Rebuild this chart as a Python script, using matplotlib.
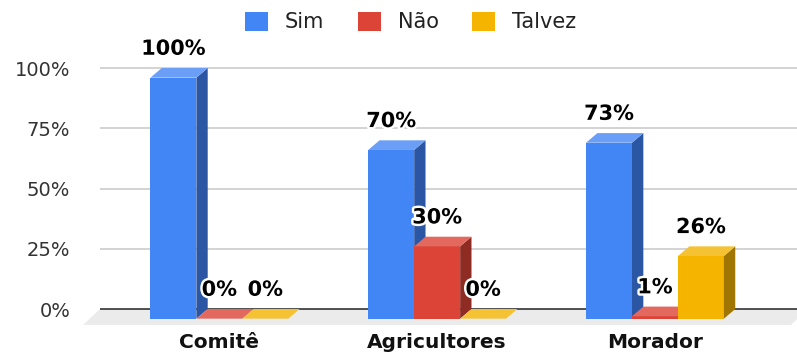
import matplotlib
matplotlib.use("Agg")
import matplotlib.pyplot as plt
import matplotlib.patheffects as pe
from matplotlib.patches import Polygon, Patch
import numpy as np

# Data
categories = ["Comitê", "Agricultores", "Morador"]
series_names = ["Sim", "Não", "Talvez"]
sim = [100, 70, 73]
nao = [0, 30, 1]
talvez = [0, 0, 26]
value_labels = [["100%", "70%", "73%"], ["0%", "30%", "1%"], ["0%", "0%", "26%"]]
y_ticks = [0, 25, 50, 75, 100]

series_values = [sim, nao, talvez]

# Face colours per series: front, side, top
front_colors = ["#4285F4", "#DB4437", "#F4B400"]
side_colors = ["#2B56A3", "#8E2B23", "#A07500"]
top_colors = ["#6B9EF6", "#E3685E", "#F5C234"]

fig = plt.figure(figsize=(7.97, 3.54), dpi=100)
ax = fig.add_axes([100 / 797, 28 / 354, 697 / 797, 284 / 354])
ax.set_xlim(-0.6, 2.6)
ax.set_ylim(-7.05, 110.8)

bar_w = 0.211     # width of each bar (data units)
depth_x = 0.052   # 3D depth offset, horizontal (data units)
depth_y = 4.0     # 3D depth offset, vertical (data units)

# Grid lines on the back plane
for t in y_ticks[1:]:
    ax.axhline(t, color="#CCCCCC", lw=1.2, zorder=0)

# Floor of the 3D box
x_left, x_right = ax.get_xlim()
floor_dx, floor_dy = 0.078, 6.6
floor = Polygon([(x_left, 0), (x_right + 0.05, 0),
                 (x_right + 0.05 - floor_dx, -floor_dy), (x_left - floor_dx, -floor_dy)],
                closed=True, facecolor="#EBEBEB", edgecolor="none", zorder=1, clip_on=False)
ax.add_patch(floor)
ax.axhline(0, color="#333333", lw=1.2, zorder=1.5)

groups = np.arange(len(categories))
offsets = [-bar_w, 0.0, bar_w]

label_fx = [pe.withStroke(linewidth=3.5, foreground="white")]

z = 2
for gi in groups:
    for si, vals in enumerate(series_values):
        v = vals[gi]
        xc_back = gi + offsets[si]
        x0b, x1b = xc_back - bar_w / 2, xc_back + bar_w / 2
        x0f, x1f = x0b - depth_x, x1b - depth_x
        yb_f, yt_f = -depth_y, v - depth_y
        yb_b, yt_b = 0.0, v
        # front face
        if v > 0:
            ax.bar(xc_back - depth_x, v, width=bar_w, bottom=-depth_y,
                   color=front_colors[si], edgecolor="none", zorder=z)
            # side face
            ax.add_patch(Polygon([(x1f, yb_f), (x1f, yt_f), (x1b, yt_b), (x1b, yb_b)],
                                 closed=True, facecolor=side_colors[si],
                                 edgecolor="none", zorder=z))
        # top face
        ax.add_patch(Polygon([(x0f, yt_f), (x1f, yt_f), (x1b, yt_b), (x0b, yt_b)],
                             closed=True, facecolor=top_colors[si],
                             edgecolor="none", zorder=z))
        z += 0.01
        # value label
        ax.annotate(value_labels[si][gi], xy=(xc_back - depth_x, yt_f),
                    xytext=(0, 16.5), textcoords="offset points",
                    ha="center", va="baseline", fontsize=15, fontweight="bold",
                    color="black", path_effects=label_fx, zorder=10)

# Axes styling
ax.set_yticks(y_ticks)
ax.set_yticklabels([f"{t}%" for t in y_ticks])
ax.set_xticks(groups - depth_x)
ax.set_xticklabels(categories, fontsize=14.5, fontweight="bold", color="#111111")
ax.tick_params(axis="y", length=0, pad=21.5, labelsize=14, labelcolor="#333333")
ax.tick_params(axis="x", length=0, pad=5)
for s in ax.spines.values():
    s.set_visible(False)

handles = [Patch(facecolor=c, edgecolor="none", label=n)
           for c, n in zip(front_colors, series_names)]
ax.legend(handles=handles, loc="center", bbox_to_anchor=(410.5 / 797, 1 - 22 / 354),
          bbox_transform=fig.transFigure, ncol=3, frameon=False, fontsize=15,
          handlelength=1.12, handleheight=1.05, handletextpad=0.8, columnspacing=1.6,
          labelcolor="#222222")

fig.savefig("out.png", dpi=100)
